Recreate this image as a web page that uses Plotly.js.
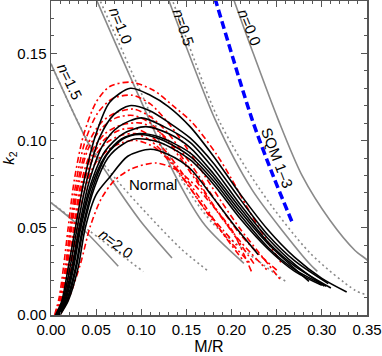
<!DOCTYPE html>
<html>
<head>
<meta charset="utf-8">
<script src="https://cdn.plot.ly/plotly-3.0.1.min.js"></script>
<style>
  html, body { margin: 0; padding: 0; background: #fff; }
  #chart { width: 382px; height: 356px; }
</style>
</head>
<body>
<div id="chart"></div>
<script>
// polytropes (solid and dotted pairs)
const n00X = [0.196, 0.2019, 0.2215, 0.2514, 0.278, 0.309, 0.3367, 0.35, 0.36];
const n00Y = [0.19, 0.1815, 0.1535, 0.1123, 0.080, 0.0543, 0.037, 0.0316, 0.026];

const n05X = [0.1232, 0.1296, 0.1816, 0.2226, 0.2846, 0.295];
const n05Y = [0.19, 0.1815, 0.1123, 0.0719, 0.0304, 0.025];
const n05dX = [0.1273, 0.1337, 0.1853, 0.2315, 0.2868, 0.3367, 0.35];
const n05dY = [0.19, 0.1815, 0.1123, 0.0719, 0.0356, 0.0142, 0.0114];

const n10X = [0.0424, 0.0506, 0.0911, 0.1392, 0.1706, 0.2137];
const n10Y = [0.19, 0.1804, 0.1326, 0.0783, 0.0514, 0.0296];
const n10dX = [0.0461, 0.0543, 0.0952, 0.144, 0.1783, 0.2171, 0.2614];
const n10dY = [0.19, 0.1803, 0.1327, 0.0783, 0.053, 0.0359, 0.0187];

const n15X = [0, 0.0432, 0.0653, 0.0986, 0.134];
const n15Y = [0.144, 0.0966, 0.0788, 0.0542, 0.0327];
const n15dX = [0, 0.0432, 0.0731, 0.1429, 0.1728];
const n15dY = [0.144, 0.0975, 0.0771, 0.0385, 0.0257];

const n20X = [0, 0.0358, 0.0745];
const n20Y = [0.0644, 0.049, 0.0279];
const n20dX = [0, 0.0413, 0.1022];
const n20dY = [0.0644, 0.0487, 0.0249];

// strange quark matter
const sqmX = [0.1777, 0.1816, 0.2226, 0.2462, 0.2683];
const sqmY = [0.188, 0.1815, 0.1123, 0.0796, 0.0517];

// normal EOS, black solid
const normalX = [
  [0.005, 0.012, 0.019, 0.027, 0.037, 0.05, 0.065, 0.088, 0.11, 0.13, 0.154, 0.18, 0.21, 0.24, 0.27, 0.30, 0.3275],
  [0.006, 0.013, 0.021, 0.029, 0.04, 0.054, 0.07, 0.087, 0.11, 0.13, 0.154, 0.18, 0.21, 0.24, 0.27, 0.3071],
  [0.007, 0.014, 0.023, 0.031, 0.042, 0.057, 0.075, 0.10, 0.125, 0.154, 0.18, 0.21, 0.24, 0.27, 0.3027],
  [0.007, 0.015, 0.024, 0.032, 0.044, 0.06, 0.08, 0.105, 0.13, 0.154, 0.18, 0.21, 0.24, 0.27, 0.31],
  [0.008, 0.016, 0.025, 0.033, 0.045, 0.06, 0.078, 0.098, 0.12, 0.154, 0.18, 0.21, 0.24, 0.2857],
  [0.008, 0.017, 0.027, 0.035, 0.047, 0.062, 0.08, 0.097, 0.12, 0.154, 0.18, 0.21, 0.24, 0.27, 0.305],
  [0.009, 0.018, 0.028, 0.036, 0.048, 0.063, 0.08, 0.095, 0.12, 0.154, 0.18, 0.21, 0.24, 0.27, 0.30],
  [0.01, 0.019, 0.03, 0.038, 0.05, 0.065, 0.085, 0.11, 0.13, 0.154, 0.18, 0.205, 0.2296]
];
const normalY = [
  [0, 0.008, 0.027, 0.05, 0.078, 0.104, 0.122, 0.130, 0.126, 0.1195, 0.108, 0.091, 0.069, 0.049, 0.033, 0.021, 0.0132],
  [0, 0.008, 0.027, 0.05, 0.078, 0.102, 0.115, 0.120, 0.117, 0.1105, 0.1015, 0.087, 0.066, 0.046, 0.031, 0.018],
  [0, 0.008, 0.027, 0.05, 0.076, 0.097, 0.108, 0.113, 0.108, 0.099, 0.084, 0.063, 0.044, 0.029, 0.0166],
  [0, 0.008, 0.027, 0.05, 0.075, 0.094, 0.104, 0.108, 0.104, 0.096, 0.081, 0.061, 0.042, 0.028, 0.0155],
  [0, 0.008, 0.027, 0.05, 0.074, 0.091, 0.101, 0.104, 0.102, 0.093, 0.079, 0.059, 0.041, 0.0193],
  [0, 0.008, 0.027, 0.05, 0.074, 0.092, 0.101, 0.1035, 0.101, 0.091, 0.077, 0.057, 0.039, 0.026, 0.0165],
  [0, 0.008, 0.027, 0.05, 0.073, 0.090, 0.098, 0.101, 0.099, 0.089, 0.075, 0.055, 0.038, 0.025, 0.017],
  [0, 0.008, 0.027, 0.05, 0.069, 0.079, 0.091, 0.095, 0.092, 0.084, 0.067, 0.05, 0.0346]
];

// red dash-dot EOS
const redX = [
  [0.004, 0.009, 0.014, 0.019, 0.026, 0.036, 0.05, 0.065, 0.088, 0.113, 0.135, 0.157, 0.1835, 0.2, 0.217, 0.235, 0.2555],
  [0.005, 0.01, 0.016, 0.021, 0.028, 0.038, 0.052, 0.068, 0.09, 0.11, 0.13, 0.15, 0.17, 0.19, 0.21, 0.23, 0.2555],
  [0.005, 0.011, 0.017, 0.022, 0.03, 0.04, 0.055, 0.072, 0.092, 0.112, 0.13, 0.15, 0.17, 0.19, 0.21, 0.23, 0.2503],
  [0.006, 0.012, 0.018, 0.023, 0.031, 0.041, 0.056, 0.072, 0.091, 0.11, 0.13, 0.15, 0.17, 0.19, 0.21, 0.2389],
  [0.006, 0.013, 0.02, 0.025, 0.033, 0.044, 0.06, 0.078, 0.1, 0.12, 0.14, 0.16, 0.18, 0.2, 0.226],
  [0.007, 0.014, 0.021, 0.026, 0.034, 0.045, 0.06, 0.076, 0.093, 0.112, 0.13, 0.15, 0.17, 0.19, 0.2126],
  [0.007, 0.014, 0.022, 0.027, 0.035, 0.046, 0.062, 0.078, 0.093, 0.11, 0.13, 0.15, 0.17, 0.19, 0.2056],
  [0.008, 0.015, 0.023, 0.029, 0.037, 0.048, 0.064, 0.08, 0.095, 0.115, 0.135, 0.155, 0.175, 0.195, 0.22],
  [0.01, 0.02, 0.033, 0.043, 0.055, 0.07, 0.09, 0.117, 0.14, 0.16, 0.18, 0.2, 0.222]
];
const redY = [
  [0, 0.01, 0.028, 0.05, 0.078, 0.103, 0.122, 0.131, 0.1335, 0.129, 0.12, 0.11, 0.092, 0.078, 0.062, 0.046, 0.0295],
  [0, 0.01, 0.028, 0.05, 0.077, 0.1, 0.116, 0.124, 0.126, 0.121, 0.11, 0.096, 0.08, 0.064, 0.049, 0.036, 0.0193],
  [0, 0.01, 0.028, 0.05, 0.077, 0.097, 0.11, 0.116, 0.118, 0.113, 0.104, 0.09, 0.075, 0.06, 0.046, 0.035, 0.0256],
  [0, 0.01, 0.028, 0.05, 0.076, 0.095, 0.107, 0.113, 0.1144, 0.11, 0.099, 0.085, 0.07, 0.055, 0.042, 0.026],
  [0, 0.01, 0.028, 0.05, 0.075, 0.093, 0.104, 0.109, 0.11, 0.105, 0.094, 0.079, 0.063, 0.048, 0.0285],
  [0, 0.01, 0.028, 0.05, 0.074, 0.091, 0.101, 0.106, 0.107, 0.102, 0.092, 0.078, 0.063, 0.047, 0.0314],
  [0, 0.01, 0.028, 0.05, 0.073, 0.089, 0.099, 0.103, 0.104, 0.1, 0.09, 0.076, 0.061, 0.049, 0.04],
  [0, 0.01, 0.028, 0.05, 0.071, 0.086, 0.095, 0.099, 0.1, 0.096, 0.086, 0.072, 0.057, 0.044, 0.03],
  [0, 0.01, 0.03, 0.05, 0.066, 0.077, 0.084, 0.0871, 0.083, 0.074, 0.062, 0.049, 0.025]
];

const GRAY = '#8a8a8a';
const FONT = 'Liberation Sans, Arial, sans-serif';

function line(x, y, color, width, dash, shape) {
  return {
    x: x, y: y, mode: 'lines', type: 'scatter', hoverinfo: 'skip', showlegend: false,
    line: { color: color, width: width, dash: dash || 'solid', shape: shape || 'spline', smoothing: 0.8 }
  };
}

const traces = [];
[[n00X, n00Y], [n05X, n05Y], [n10X, n10Y], [n15X, n15Y], [n20X, n20Y]].forEach(p => {
  traces.push(line(p[0], p[1], GRAY, 1.6));
});
[[n05dX, n05dY], [n10dX, n10dY], [n15dX, n15dY], [n20dX, n20dY]].forEach(p => {
  traces.push(line(p[0], p[1], GRAY, 1.6, '2px,3px'));
});
redX.forEach((xs, i) => traces.push(line(xs, redY[i], '#ff0000', 1.6, '6px,3px,2px,3px')));
normalX.forEach((xs, i) => traces.push(line(xs, normalY[i], '#000000', 1.6)));
traces.push(line(sqmX, sqmY, '#0000ff', 3.5, '8px,4px'));

function label(text, x, y, angle) {
  return {
    text: text, x: x, y: y, xref: 'x', yref: 'y', showarrow: false,
    textangle: angle, font: { family: FONT, size: 15, color: '#000' }
  };
}

const axisCommon = {
  showgrid: false, zeroline: false, showline: true, mirror: 'allticks',
  linecolor: '#555', linewidth: 1.5, ticks: 'inside', ticklen: 6, tickwidth: 1.2,
  tickcolor: '#555', tickformat: '.2f',
  tickfont: { family: FONT, size: 15, color: '#000' },
  minor: { dtick: 0.01, ticks: 'inside', ticklen: 3, tickwidth: 1, tickcolor: '#555' }
};

const layout = {
  width: 382, height: 356,
  margin: { l: 51, r: 15, t: 1, b: 41 },
  paper_bgcolor: '#fff', plot_bgcolor: '#fff',
  xaxis: Object.assign({}, axisCommon, {
    range: [0, 0.35], dtick: 0.05, tick0: 0,
    title: { text: 'M/R', font: { family: FONT, size: 16, color: '#000' }, standoff: 4 }
  }),
  yaxis: Object.assign({}, axisCommon, {
    range: [0, 0.18], dtick: 0.05, tick0: 0,
    title: { text: '<i>k</i><sub>2</sub>', font: { family: FONT, size: 15, color: '#000' }, standoff: 4 }
  }),
  annotations: [
    label('<i>n</i>=1.0', 0.0775, 0.166, 68),
    label('<i>n</i>=0.5', 0.1473, 0.165, 72),
    label('<i>n</i>=0.0', 0.2204, 0.165, 68),
    label('<i>n</i>=1.5', 0.021, 0.1339, 64),
    label('<i>n</i>=2.0', 0.072, 0.041, 37),
    label('SQM 1\u20133', 0.2505, 0.0904, 69),
    label('Normal', 0.113, 0.0749, 0)
  ]
};

Plotly.newPlot('chart', traces, layout, { staticPlot: true, displayModeBar: false });
</script>
</body>
</html>
